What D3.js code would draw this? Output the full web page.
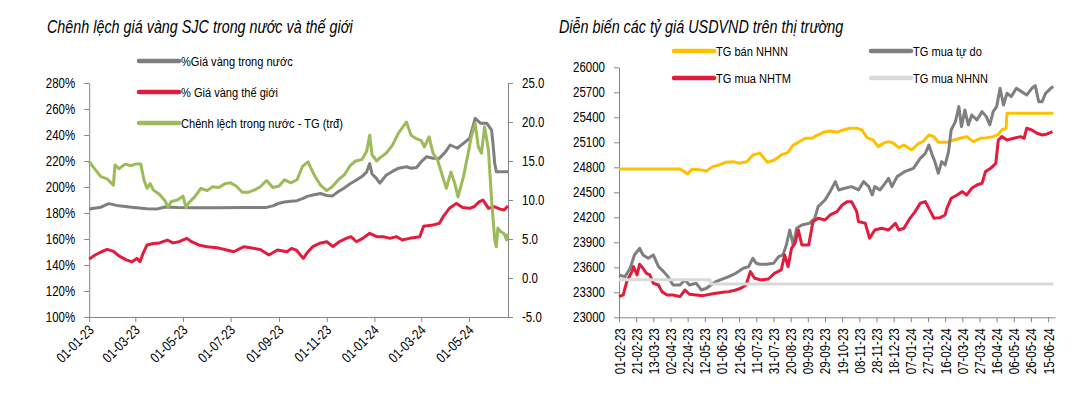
<!DOCTYPE html>
<html>
<head>
<meta charset="utf-8">
<script src="https://cdn.jsdelivr.net/npm/d3@7"></script>
<style>
  body { margin: 0; background: #fff; }
</style>
</head>
<body>
<svg id="chart" width="1089" height="397"></svg>
<script>
// ---------- data: gold chart (left) ----------
var goldDomestic = [
  ["2023-01-01",183.1],["2023-01-16",184.5],["2023-01-26",187.2],["2023-02-08",185.5],["2023-02-24",184.5],
  ["2023-03-16",183.2],["2023-03-28",183.0],["2023-04-08",184.6],["2023-04-24",184.2],["2023-05-16",184.0],
  ["2023-06-16",184.0],["2023-07-16",184.2],["2023-08-16",184.3],["2023-08-24",185.5],["2023-09-01",187.5],
  ["2023-09-08",188.5],["2023-09-16",189.0],["2023-09-24",189.5],["2023-10-01",191.0],["2023-10-08",193.0],
  ["2023-10-16",194.0],["2023-10-24",195.0],["2023-11-01",193.5],["2023-11-08",193.0],["2023-11-16",196.5],
  ["2023-11-24",199.5],["2023-12-01",202.5],["2023-12-08",205.0],["2023-12-16",208.0],["2023-12-22",211.5],
  ["2023-12-26",218.0],["2023-12-29",210.0],["2024-01-03",207.0],["2024-01-08",203.0],["2024-01-16",209.0],
  ["2024-01-24",212.0],["2024-02-01",214.5],["2024-02-11",215.6],["2024-02-17",214.4],["2024-02-24",215.0],
  ["2024-03-01",219.5],["2024-03-08",223.3],["2024-03-16",222.1],["2024-03-24",222.0],["2024-04-01",227.0],
  ["2024-04-07",232.3],["2024-04-16",229.8],["2024-04-24",233.6],["2024-05-02",237.5],["2024-05-09",252.8],
  ["2024-05-16",249.0],["2024-05-24",249.0],["2024-05-30",243.8],["2024-06-01",232.0],["2024-06-03",218.2],
  ["2024-06-05",211.8],["2024-06-20",211.8]
];
var goldWorld = [
  ["2023-01-01",144.5],["2023-01-08",147.5],["2023-01-16",150.0],["2023-01-24",152.0],["2023-02-01",150.5],
  ["2023-02-08",147.0],["2023-02-18",143.8],["2023-02-25",142.5],["2023-03-03",145.1],["2023-03-07",142.5],
  ["2023-03-11",149.0],["2023-03-16",155.4],["2023-03-24",156.5],["2023-04-01",157.0],["2023-04-11",159.2],
  ["2023-04-18",157.0],["2023-04-26",157.9],["2023-05-06",160.5],["2023-05-12",157.9],["2023-05-21",155.4],
  ["2023-06-01",154.1],["2023-06-16",153.0],["2023-06-26",151.5],["2023-07-05",150.2],["2023-07-18",154.1],
  ["2023-07-28",153.0],["2023-08-08",152.0],["2023-08-19",147.7],["2023-08-30",151.5],["2023-09-11",150.2],
  ["2023-09-17",152.8],["2023-09-23",151.5],["2023-10-02",145.1],["2023-10-08",150.2],["2023-10-14",154.1],
  ["2023-10-23",156.7],["2023-11-01",157.9],["2023-11-09",154.1],["2023-11-17",157.9],["2023-11-26",160.5],
  ["2023-12-02",161.8],["2023-12-09",157.9],["2023-12-17",160.5],["2023-12-26",164.4],["2024-01-04",161.8],
  ["2024-01-12",161.8],["2024-01-21",160.5],["2024-01-29",161.8],["2024-02-06",159.2],["2024-02-15",160.5],
  ["2024-02-28",161.8],["2024-03-04",169.8],["2024-03-16",170.8],["2024-03-24",172.0],["2024-03-29",177.2],
  ["2024-04-06",183.6],["2024-04-15",187.4],["2024-04-23",184.2],["2024-05-02",183.6],["2024-05-08",185.0],
  ["2024-05-14",188.5],["2024-05-19",190.0],["2024-05-26",183.6],["2024-06-03",184.8],["2024-06-10",183.0],
  ["2024-06-15",182.3],["2024-06-20",185.4]
];
var goldGap = [
  ["2023-01-01",14.9],["2023-01-08",14.0],["2023-01-16",13.0],["2023-01-24",12.7],["2023-02-01",11.9],
  ["2023-02-03",14.5],["2023-02-08",14.0],["2023-02-16",14.6],["2023-02-24",14.4],["2023-03-01",14.6],
  ["2023-03-08",14.6],["2023-03-12",12.6],["2023-03-16",11.5],["2023-03-20",12.1],["2023-03-24",11.3],
  ["2023-04-01",10.7],["2023-04-08",9.9],["2023-04-12",9.1],["2023-04-16",9.8],["2023-04-24",10.0],
  ["2023-05-01",10.5],["2023-05-05",9.0],["2023-05-08",9.6],["2023-05-16",10.4],["2023-05-24",11.5],
  ["2023-06-01",11.2],["2023-06-08",11.7],["2023-06-16",11.6],["2023-06-24",12.1],["2023-07-01",12.2],
  ["2023-07-08",11.8],["2023-07-16",11.0],["2023-07-24",11.0],["2023-08-01",11.3],["2023-08-08",11.7],
  ["2023-08-16",12.5],["2023-08-24",11.6],["2023-09-01",11.8],["2023-09-08",12.6],["2023-09-16",12.2],
  ["2023-09-24",12.6],["2023-10-01",14.3],["2023-10-08",14.9],["2023-10-16",13.2],["2023-10-24",11.9],
  ["2023-11-01",11.2],["2023-11-08",11.7],["2023-11-16",12.6],["2023-11-24",13.3],["2023-12-01",14.4],
  ["2023-12-08",15.0],["2023-12-16",15.2],["2023-12-22",16.2],["2023-12-26",18.3],["2023-12-29",15.8],
  ["2024-01-04",15.0],["2024-01-08",15.4],["2024-01-16",16.0],["2024-01-24",17.0],["2024-02-01",18.6],
  ["2024-02-11",20.0],["2024-02-17",18.3],["2024-02-23",17.9],["2024-03-01",17.6],["2024-03-05",16.8],
  ["2024-03-11",18.1],["2024-03-16",16.0],["2024-03-22",15.1],["2024-03-29",12.8],["2024-04-02",11.5],
  ["2024-04-08",13.6],["2024-04-13",12.1],["2024-04-17",10.4],["2024-04-24",13.0],["2024-04-30",16.0],
  ["2024-05-04",18.1],["2024-05-09",19.8],["2024-05-13",16.8],["2024-05-17",16.0],["2024-05-21",19.4],
  ["2024-05-26",16.4],["2024-05-30",10.0],["2024-06-03",4.9],["2024-06-05",4.0],["2024-06-07",6.4],
  ["2024-06-11",5.9],["2024-06-15",5.7],["2024-06-18",4.9],["2024-06-20",5.7]
];
var goldPctTicks = [100,120,140,160,180,200,220,240,260,280];
var goldGapTicks = [-5,0,5,10,15,20,25];
var goldDateTicks = ["2023-01-01","2023-03-01","2023-05-01","2023-07-01","2023-09-01",
                     "2023-11-01","2024-01-01","2024-03-01","2024-05-01"];

// ---------- data: USDVND chart (right) ----------
var sellNHNN = [
  ["2023-02-01",24780],["2023-04-13",24780],["2023-04-18",24750],["2023-04-22",24720],["2023-04-27",24776],
  ["2023-05-05",24772],["2023-05-14",24756],["2023-05-21",24808],["2023-05-29",24828],["2023-06-05",24860],
  ["2023-06-14",24868],["2023-06-21",24848],["2023-06-30",24868],["2023-07-07",24948],["2023-07-15",24970],
  ["2023-07-24",24860],["2023-08-01",24888],["2023-08-09",24948],["2023-08-17",24980],["2023-08-23",25068],
  ["2023-08-29",25100],["2023-09-06",25148],["2023-09-14",25148],["2023-09-19",25180],["2023-09-27",25220],
  ["2023-10-05",25236],["2023-10-13",25220],["2023-10-20",25248],["2023-10-28",25268],["2023-11-05",25268],
  ["2023-11-11",25248],["2023-11-17",25156],["2023-11-24",25128],["2023-11-30",25048],["2023-12-06",25088],
  ["2023-12-12",25108],["2023-12-18",25088],["2023-12-24",25036],["2023-12-30",25068],["2024-01-02",25048],
  ["2024-01-08",25008],["2024-01-16",25088],["2024-01-21",25108],["2024-01-28",25188],["2024-02-03",25168],
  ["2024-02-08",25100],["2024-02-18",25100],["2024-02-26",25128],["2024-03-04",25148],["2024-03-12",25168],
  ["2024-03-20",25108],["2024-03-28",25148],["2024-04-05",25156],["2024-04-12",25168],["2024-04-18",25196],
  ["2024-04-22",25248],["2024-04-27",25268],["2024-04-28",25450],["2024-06-21",25450]
];
var buyFree = [
  ["2023-02-01",23508],["2023-02-08",23488],["2023-02-14",23588],["2023-02-19",23748],["2023-02-25",23828],
  ["2023-03-01",23748],["2023-03-07",23708],["2023-03-13",23748],["2023-03-19",23608],["2023-03-25",23548],
  ["2023-03-30",23488],["2023-04-05",23388],["2023-04-13",23388],["2023-04-19",23448],["2023-04-24",23388],
  ["2023-05-02",23408],["2023-05-08",23328],["2023-05-14",23348],["2023-05-19",23388],["2023-05-25",23428],
  ["2023-06-02",23460],["2023-06-09",23488],["2023-06-17",23528],["2023-06-26",23588],["2023-07-02",23608],
  ["2023-07-07",23708],["2023-07-11",23648],["2023-07-15",23636],["2023-07-23",23636],["2023-07-31",23648],
  ["2023-08-06",23728],["2023-08-11",23748],["2023-08-15",23868],["2023-08-19",24048],["2023-08-23",23868],
  ["2023-08-27",24068],["2023-09-02",24108],["2023-09-11",24128],["2023-09-17",24188],["2023-09-21",24328],
  ["2023-09-29",24408],["2023-10-05",24508],["2023-10-11",24628],["2023-10-15",24528],["2023-10-22",24548],
  ["2023-10-30",24568],["2023-11-07",24528],["2023-11-13",24628],["2023-11-19",24568],["2023-11-23",24468],
  ["2023-11-26",24568],["2023-12-02",24528],["2023-12-08",24608],["2023-12-12",24668],["2023-12-16",24568],
  ["2023-12-22",24688],["2023-12-28",24728],["2023-12-31",24748],["2024-01-10",24788],["2024-01-18",24908],
  ["2024-01-24",24968],["2024-01-28",25068],["2024-02-01",24948],["2024-02-04",24868],["2024-02-08",24728],
  ["2024-02-12",24868],["2024-02-16",24828],["2024-02-20",24988],["2024-02-23",25248],["2024-02-28",25348],
  ["2024-03-03",25528],["2024-03-06",25288],["2024-03-10",25488],["2024-03-14",25308],["2024-03-18",25428],
  ["2024-03-24",25368],["2024-03-30",25468],["2024-04-04",25408],["2024-04-08",25308],["2024-04-12",25468],
  ["2024-04-16",25528],["2024-04-20",25748],["2024-04-24",25548],["2024-04-28",25688],["2024-05-03",25648],
  ["2024-05-09",25748],["2024-05-15",25708],["2024-05-21",25668],["2024-05-27",25748],["2024-05-31",25780],
  ["2024-06-04",25588],["2024-06-08",25588],["2024-06-12",25688],["2024-06-18",25748],["2024-06-21",25768]
];
var buyNHTM = [
  ["2023-02-01",23248],["2023-02-06",23268],["2023-02-10",23428],["2023-02-16",23548],["2023-02-18",23608],
  ["2023-02-22",23508],["2023-02-25",23636],["2023-03-01",23588],["2023-03-05",23528],["2023-03-09",23508],
  ["2023-03-13",23408],["2023-03-19",23388],["2023-03-23",23308],["2023-03-29",23268],["2023-04-05",23268],
  ["2023-04-13",23248],["2023-04-19",23328],["2023-04-24",23276],["2023-05-02",23268],["2023-05-10",23260],
  ["2023-05-18",23276],["2023-05-25",23288],["2023-06-02",23300],["2023-06-09",23308],["2023-06-17",23328],
  ["2023-06-23",23348],["2023-06-29",23388],["2023-07-04",23548],["2023-07-09",23468],["2023-07-17",23448],
  ["2023-07-25",23460],["2023-08-01",23528],["2023-08-09",23568],["2023-08-13",23748],["2023-08-17",23608],
  ["2023-08-21",23828],["2023-08-25",23888],["2023-08-29",24048],["2023-09-02",23868],["2023-09-10",23868],
  ["2023-09-15",24148],["2023-09-21",24188],["2023-09-29",24168],["2023-10-05",24228],["2023-10-13",24268],
  ["2023-10-19",24348],["2023-10-25",24388],["2023-10-30",24388],["2023-11-05",24268],["2023-11-07",24148],
  ["2023-11-15",24128],["2023-11-20",23948],["2023-11-26",24048],["2023-12-04",24068],["2023-12-12",24048],
  ["2023-12-20",24128],["2023-12-24",24048],["2023-12-30",24068],["2024-01-06",24188],["2024-01-12",24268],
  ["2024-01-18",24368],["2024-01-24",24388],["2024-01-30",24268],["2024-02-03",24188],["2024-02-10",24196],
  ["2024-02-16",24228],["2024-02-18",24308],["2024-02-23",24428],["2024-03-01",24468],["2024-03-07",24508],
  ["2024-03-12",24468],["2024-03-18",24548],["2024-03-24",24588],["2024-03-30",24608],["2024-04-03",24748],
  ["2024-04-09",24788],["2024-04-15",24848],["2024-04-18",25128],["2024-04-22",25168],["2024-04-28",25128],
  ["2024-05-06",25148],["2024-05-14",25168],["2024-05-18",25148],["2024-05-21",25268],["2024-05-27",25248],
  ["2024-06-02",25208],["2024-06-08",25188],["2024-06-14",25200],["2024-06-20",25228]
];
var buyNHNN = [["2023-02-01",23450],["2023-05-18",23450],["2023-05-19",23400],["2024-06-21",23400]];
var fxTicks = [23000,23300,23600,23900,24200,24500,24800,25100,25400,25700,26000];
var fxDateTicks = ["2023-02-01","2023-02-21","2023-03-13","2023-04-02","2023-04-22","2023-05-12",
  "2023-06-01","2023-06-21","2023-07-11","2023-07-31","2023-08-20","2023-09-09","2023-09-29",
  "2023-10-19","2023-11-08","2023-11-28","2023-12-18","2024-01-07","2024-01-27","2024-02-16",
  "2024-03-07","2024-03-27","2024-04-16","2024-05-06","2024-05-26","2024-06-15"];

// ---------- setup ----------
// no narrow font installed: squeeze Liberation Sans horizontally instead
var FONT = "'Liberation Sans',Arial,sans-serif";
var NARROW = 0.82;
var AXIS = "#868686";
var parse = d3.timeParse("%Y-%m-%d");
var fmtDate = d3.timeFormat("%d-%m-%y");

var svg = d3.select("#chart");
svg.append("rect").attr("width",1089).attr("height",397).attr("fill","#fff");

function styleAxis(g, size) {
  g.attr("font-family", FONT).attr("font-size", size);
  g.select(".domain").attr("stroke", AXIS);
  g.selectAll(".tick line").attr("stroke", AXIS);
  g.selectAll(".tick text").attr("fill", "#000");
}

function narrowY(g) {
  g.selectAll(".tick text").each(function() {
    var t = d3.select(this);
    t.attr("x", (+t.attr("x")) / NARROW).attr("transform", "scale(" + NARROW + ",1)");
  });
}

function label(x, y, size, txt, italic) {
  return svg.append("text")
    .attr("transform", "translate(" + x + "," + y + ") scale(" + NARROW + ",1)")
    .attr("font-family", FONT).attr("font-size", size)
    .attr("font-style", italic ? "italic" : "normal")
    .attr("fill", "#000").text(txt);
}

function legendItem(x, y, color, txt) {
  svg.append("line").attr("x1", x).attr("x2", x + 40).attr("y1", y).attr("y2", y)
    .attr("stroke", color).attr("stroke-width", 4.5).attr("stroke-linecap", "round");
  label(x + 42, y, 13.5, txt).attr("dy", "0.35em");
}

// ---------- left chart ----------
var gl = {l: 89.2, r: 508, t: 83, b: 317};
var xL = d3.scaleTime().domain([parse("2023-01-01"), parse("2024-06-20")]).range([gl.l, gl.r]);
var yL = d3.scaleLinear().domain([100, 280]).range([gl.b, gl.t]);
var yR = d3.scaleLinear().domain([-5, 25]).range([gl.b, gl.t]);

label(47, 33, 17.5, "Chênh lệch giá vàng SJC trong nước và thế giới", true);

var axL = svg.append("g").attr("transform", "translate(" + gl.l + ",0)")
  .call(d3.axisLeft(yL).tickValues(goldPctTicks).tickSize(5).tickSizeOuter(0).tickPadding(9)
    .tickFormat(function(d){ return d + "%"; }));
styleAxis(axL, 14);
narrowY(axL);

var axR = svg.append("g").attr("transform", "translate(" + gl.r + ",0)")
  .call(d3.axisRight(yR).tickValues(goldGapTicks).tickSize(5).tickSizeOuter(0).tickPadding(9)
    .tickFormat(function(d){ return d.toFixed(1); }));
styleAxis(axR, 14);
narrowY(axR);

var axB = svg.append("g").attr("transform", "translate(0," + gl.b + ")")
  .call(d3.axisBottom(xL).tickValues(goldDateTicks.map(parse)).tickSize(5).tickSizeOuter(0)
    .tickFormat(fmtDate));
styleAxis(axB, 14);
axB.selectAll(".tick text").attr("y", 0).attr("dy", 0)
  .attr("transform", "translate(5,14) rotate(-45) scale(" + NARROW + ",1)").style("text-anchor", "end");

var lineL = d3.line().x(function(d){ return xL(parse(d[0])); }).y(function(d){ return yL(d[1]); });
var lineR = d3.line().x(function(d){ return xL(parse(d[0])); }).y(function(d){ return yR(d[1]); });

svg.append("path").datum(goldDomestic).attr("d", lineL).attr("fill", "none")
  .attr("stroke", "#7f7f7f").attr("stroke-width", 3).attr("stroke-linejoin", "round");
svg.append("path").datum(goldWorld).attr("d", lineL).attr("fill", "none")
  .attr("stroke", "#e31b3c").attr("stroke-width", 3).attr("stroke-linejoin", "round");
svg.append("path").datum(goldGap).attr("d", lineR).attr("fill", "none")
  .attr("stroke", "#9bbb59").attr("stroke-width", 3).attr("stroke-linejoin", "round");

legendItem(139, 61, "#7f7f7f", "%Giá vàng trong nước");
legendItem(139, 92, "#e31b3c", "% Giá vàng thế giới");
legendItem(139, 123, "#9bbb59", "Chênh lệch trong nước - TG (trđ)");

// ---------- right chart ----------
var gr = {l: 619, r: 1055, t: 67.3, b: 317.3};
var xF = d3.scaleTime().domain([parse("2023-02-01"), parse("2024-06-23")]).range([gr.l, gr.r]);
var yF = d3.scaleLinear().domain([23000, 26000]).range([gr.b, gr.t]);

label(559, 33, 17.5, "Diễn biến các tỷ giá USDVND trên thị trường", true);

var axF = svg.append("g").attr("transform", "translate(" + gr.l + ",0)")
  .call(d3.axisLeft(yF).tickValues(fxTicks).tickSize(5).tickSizeOuter(0).tickPadding(9)
    .tickFormat(d3.format("d")));
styleAxis(axF, 14);
narrowY(axF);

var axFB = svg.append("g").attr("transform", "translate(0," + gr.b + ")")
  .call(d3.axisBottom(xF).tickValues(fxDateTicks.map(parse)).tickSize(5).tickSizeOuter(0)
    .tickFormat(fmtDate));
styleAxis(axFB, 14);
axFB.selectAll(".tick text").attr("y", 0).attr("dy", 0)
  .attr("transform", "translate(5,11) rotate(-90) scale(" + NARROW + ",1)").style("text-anchor", "end");

var lineF = d3.line().x(function(d){ return xF(parse(d[0])); }).y(function(d){ return yF(d[1]); });
[[sellNHNN, "#ffc000"], [buyFree, "#7f7f7f"], [buyNHTM, "#e31b3c"], [buyNHNN, "#d9d9d9"]]
  .forEach(function(s) {
    svg.append("path").datum(s[0]).attr("d", lineF).attr("fill", "none")
      .attr("stroke", s[1]).attr("stroke-width", 3).attr("stroke-linejoin", "round");
  });

legendItem(674, 51, "#ffc000", "TG bán NHNN");
legendItem(871, 51, "#7f7f7f", "TG mua tự do");
legendItem(674, 78, "#e31b3c", "TG mua NHTM");
legendItem(871, 78, "#d9d9d9", "TG mua NHNN");
</script>
</body>
</html>
